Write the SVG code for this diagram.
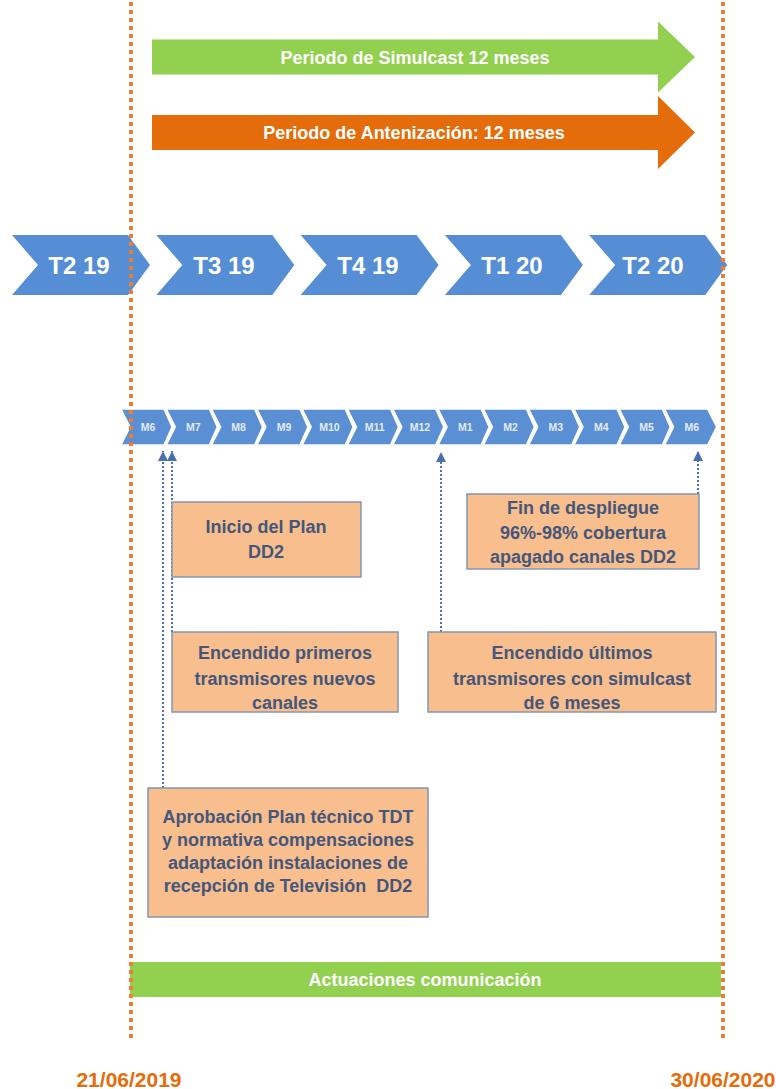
<svg xmlns="http://www.w3.org/2000/svg" width="776" height="1089" viewBox="0 0 776 1089">
<style>
  text { font-family: "Liberation Sans", Arial, sans-serif; font-weight: bold; }
  .wt { fill: #ffffff; font-size: 18px; text-anchor: middle; }
  .tq { fill: #ffffff; font-size: 24px; text-anchor: middle; }
  .tm { fill: #e3ebf7; font-size: 10.5px; text-anchor: middle; }
  .qchev { fill: #568ed6; }
  .mchev { fill: #5a8fd4; stroke: #ffffff; stroke-width: 1.5; }
  .box { fill: #f9be8e; stroke: #8496b0; stroke-width: 1.5; }
  .bt { fill: #44577a; font-size: 18px; text-anchor: middle; white-space: pre; }
  .conn { fill: none; stroke: #4f72b2; stroke-width: 2; stroke-dasharray: 2 2; }
  .dline { stroke: #ed7d31; stroke-width: 4; stroke-dasharray: 4 4; }
  .date { fill: #e46c0a; font-size: 21px; text-anchor: middle; }
</style>
<defs>
  <marker id="ah" markerUnits="userSpaceOnUse" markerWidth="10" markerHeight="10" refX="10" refY="5" orient="auto">
    <path d="M0,0 L10,5 L0,10 z" fill="#4a6fae"/>
  </marker>
</defs>
<rect width="776" height="1089" fill="#ffffff"/>

<g id="simulcast">
  <polygon points="152,39.5 658,39.5 658,21.5 695,57 658,92.5 658,74.5 152,74.5" fill="#92d050"/>
  <text class="wt" x="415" y="63.5">Periodo de Simulcast 12 meses</text>
</g>
<g id="antenizacion">
  <polygon points="152,115 658,115 658,96 695,132.5 658,169 658,150 152,150" fill="#e46c0a"/>
  <text class="wt" x="414" y="139">Periodo de Antenización: 12 meses</text>
</g>

<g id="quarters">
  <g id="q-t2-19"><polygon class="qchev" points="12,235 128,235 150,265 128,295 12,295 38,265"/><text class="tq" x="79" y="273.5">T2 19</text></g>
  <g id="q-t3-19"><polygon class="qchev" points="156.3,235 272.3,235 294.3,265 272.3,295 156.3,295 182.3,265"/><text class="tq" x="224" y="273.5">T3 19</text></g>
  <g id="q-t4-19"><polygon class="qchev" points="300.6,235 416.6,235 438.6,265 416.6,295 300.6,295 326.6,265"/><text class="tq" x="368" y="273.5">T4 19</text></g>
  <g id="q-t1-20"><polygon class="qchev" points="444.9,235 560.9,235 582.9,265 560.9,295 444.9,295 470.9,265"/><text class="tq" x="512" y="273.5">T1 20</text></g>
  <g id="q-t2-20"><polygon class="qchev" points="589.2,235 705.2,235 727.2,265 705.2,295 589.2,295 615.2,265"/><text class="tq" x="653" y="273.5">T2 20</text></g>
</g>

<g id="months">
  <g id="m-m6a"><polygon class="mchev" points="121,409 164,409 172,427 164,445 121,445 130,427"/><text class="tm" x="148" y="431">M6</text></g>
  <g id="m-m7"><polygon class="mchev" points="166.3,409 209.3,409 217.3,427 209.3,445 166.3,445 175.3,427"/><text class="tm" x="193.3" y="431">M7</text></g>
  <g id="m-m8"><polygon class="mchev" points="211.6,409 254.6,409 262.6,427 254.6,445 211.6,445 220.6,427"/><text class="tm" x="238.6" y="431">M8</text></g>
  <g id="m-m9"><polygon class="mchev" points="256.9,409 299.9,409 307.9,427 299.9,445 256.9,445 265.9,427"/><text class="tm" x="284" y="431">M9</text></g>
  <g id="m-m10"><polygon class="mchev" points="302.2,409 345.2,409 353.2,427 345.2,445 302.2,445 311.2,427"/><text class="tm" x="329.5" y="431">M10</text></g>
  <g id="m-m11"><polygon class="mchev" points="347.5,409 390.5,409 398.5,427 390.5,445 347.5,445 356.5,427"/><text class="tm" x="374.8" y="431">M11</text></g>
  <g id="m-m12"><polygon class="mchev" points="392.8,409 435.8,409 443.8,427 435.8,445 392.8,445 401.8,427"/><text class="tm" x="420" y="431">M12</text></g>
  <g id="m-m1"><polygon class="mchev" points="438.1,409 481.1,409 489.1,427 481.1,445 438.1,445 447.1,427"/><text class="tm" x="465.3" y="431">M1</text></g>
  <g id="m-m2"><polygon class="mchev" points="483.4,409 526.4,409 534.4,427 526.4,445 483.4,445 492.4,427"/><text class="tm" x="510.6" y="431">M2</text></g>
  <g id="m-m3"><polygon class="mchev" points="528.7,409 571.7,409 579.7,427 571.7,445 528.7,445 537.7,427"/><text class="tm" x="555.9" y="431">M3</text></g>
  <g id="m-m4"><polygon class="mchev" points="574,409 617,409 625,427 617,445 574,445 583,427"/><text class="tm" x="601.2" y="431">M4</text></g>
  <g id="m-m5"><polygon class="mchev" points="619.3,409 662.3,409 670.3,427 662.3,445 619.3,445 628.3,427"/><text class="tm" x="646.5" y="431">M5</text></g>
  <g id="m-m6b"><polygon class="mchev" points="664.6,409 707.6,409 716.6,427 707.6,445 664.6,445 673.6,427"/><text class="tm" x="691.8" y="431">M6</text></g>
</g>

<g id="connectors">
  <line class="conn" x1="163" y1="788" x2="163" y2="451" marker-end="url(#ah)"/>
  <line class="conn" x1="172" y1="632" x2="172" y2="451" marker-end="url(#ah)"/>
  <line class="conn" x1="441" y1="632" x2="441" y2="452" marker-end="url(#ah)"/>
  <line class="conn" x1="698" y1="494" x2="698" y2="451" marker-end="url(#ah)"/>
</g>

<g id="inicio">
  <rect class="box" x="172" y="502" width="189" height="75"/>
  <text class="bt" x="266" y="533">Inicio del Plan</text>
  <text class="bt" x="266" y="558">DD2</text>
</g>
<g id="fin">
  <rect class="box" x="467" y="494" width="232" height="75"/>
  <text class="bt" x="583" y="513.5">Fin de despliegue</text>
  <text class="bt" x="583" y="538.5">96%-98% cobertura</text>
  <text class="bt" x="583" y="563">apagado canales DD2</text>
</g>
<g id="encendido-primeros">
  <rect class="box" x="172" y="632" width="226" height="80"/>
  <text class="bt" x="285" y="659">Encendido primeros</text>
  <text class="bt" x="285" y="684.5">transmisores nuevos</text>
  <text class="bt" x="285" y="709">canales</text>
</g>
<g id="encendido-ultimos">
  <rect class="box" x="428" y="632" width="288" height="80"/>
  <text class="bt" x="572" y="659">Encendido últimos</text>
  <text class="bt" x="572" y="684.5">transmisores con simulcast</text>
  <text class="bt" x="572" y="709">de 6 meses</text>
</g>
<g id="aprobacion">
  <rect class="box" x="148" y="788" width="280" height="129"/>
  <text class="bt" x="288" y="823">Aprobación Plan técnico TDT</text>
  <text class="bt" x="288" y="846">y normativa compensaciones</text>
  <text class="bt" x="288" y="869">adaptación instalaciones de</text>
  <text class="bt" x="288" y="892" xml:space="preserve">recepción de Televisión  DD2</text>
</g>

<g id="comunicacion">
  <rect x="130" y="962" width="591" height="35" fill="#92d050"/>
  <text class="wt" x="425" y="986">Actuaciones comunicación</text>
</g>

<g id="date-lines">
  <line class="dline" x1="131" y1="2" x2="131" y2="1042"/>
  <line class="dline" x1="723" y1="2" x2="723" y2="1042"/>
  <text class="date" x="129" y="1087">21/06/2019</text>
  <text class="date" x="723" y="1087">30/06/2020</text>
</g>
</svg>
